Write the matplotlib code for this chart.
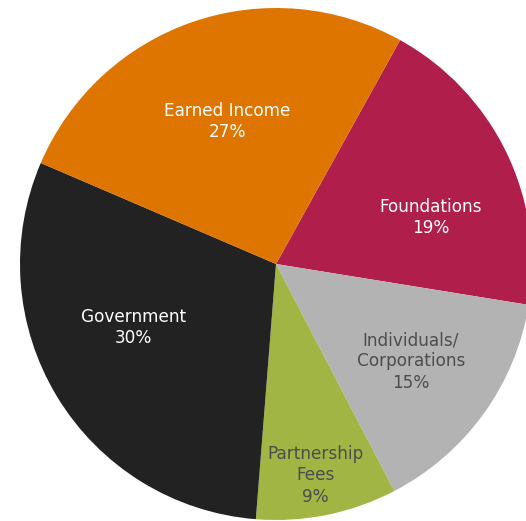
import numpy as np
import matplotlib.pyplot as plt

# Funding sources, clockwise from the top-right
labels = ['Foundations', 'Individuals/\nCorporations', 'Partnership\nFees', 'Government', 'Earned Income']
shares = [19.5, 14.8, 8.9, 30.2, 26.6]
pct_text = ['19%', '15%', '9%', '30%', '27%']

colors = ['#B01E4B', '#B3B3B3', '#A0B544', '#222222', '#DD7500']
text_colors = ['white', '#4D4D4D', '#4D4D4D', 'white', 'white']
label_dist = [0.63, 0.65, 0.84, 0.61, 0.59]
angle_tweak = [-9, 0, -1, -7, 0]

fig = plt.figure(figsize=(5.26, 5.21), dpi=100)
ax = fig.add_axes([0, 0, 1, 1])

wedges, _ = ax.pie(shares, colors=colors, startangle=61, counterclock=False,
                   radius=1.0, wedgeprops={'linewidth': 0})

for w, lab, pct, tc, d, tw in zip(wedges, labels, pct_text, text_colors, label_dist, angle_tweak):
    mid = np.deg2rad((w.theta1 + w.theta2) / 2 + tw)
    ax.text(d * np.cos(mid), d * np.sin(mid), lab + '\n' + pct,
            ha='center', va='center', color=tc, fontsize=12.2,
            family=['DejaVu Sans'], linespacing=1.22)

ax.set_xlim(-276 / 256, 250 / 256)
ax.set_ylim(-257 / 256, 264 / 256)
ax.set_aspect('auto')
ax.axis('off')

fig.savefig('out.png', dpi=100)
